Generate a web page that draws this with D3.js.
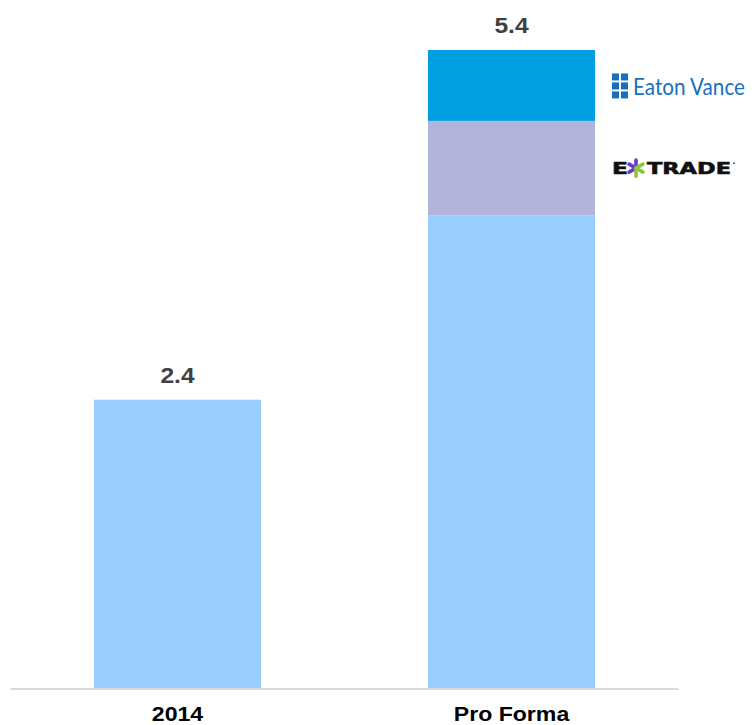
<!DOCTYPE html>
<html>
<head>
<meta charset="utf-8">
<script src="https://cdn.jsdelivr.net/npm/d3@7"></script>
<style>
  body { margin: 0; background: #fff; }
  svg { display: block; font-family: "Liberation Sans", Arial, sans-serif; }
</style>
</head>
<body>
<div id="chart"></div>
<script>
// data
const categories = ['2014', 'Pro Forma'];
const baseValues = [2.44, 4.0];
const etradeValues = [0, 0.8];
const eatonValues = [0, 0.6];
const totalLabels = ['2.4', '5.4'];

const keys = ['base', 'etrade', 'eaton'];
const colors = { base: '#99ccff', etrade: '#b2b4da', eaton: '#009fe1' };

const width = 756;
const height = 725;
const baseline = 688;

const rows = categories.map((c, i) => ({
  cat: c, base: baseValues[i], etrade: etradeValues[i], eaton: eatonValues[i], label: totalLabels[i]
}));

const svg = d3.select('#chart').append('svg').attr('width', width).attr('height', height);

const x = d3.scaleBand()
  .domain(categories)
  .range([10.5, 678.5])
  .paddingInner(0.5)
  .paddingOuter(0.25);

const y = d3.scaleLinear()
  .domain([0, 5.4])
  .range([baseline, 50]);

const stacked = d3.stack().keys(keys)(rows);

// bars
svg.append('g')
  .selectAll('g')
  .data(stacked)
  .join('g')
  .attr('fill', d => colors[d.key])
  .selectAll('rect')
  .data(d => d.filter(s => s[1] > s[0]))
  .join('rect')
  .attr('x', d => x(d.data.cat))
  .attr('width', x.bandwidth())
  .attr('y', d => y(d[1]))
  .attr('height', d => y(d[0]) - y(d[1]));

// baseline
svg.append('line')
  .attr('x1', x.range()[0]).attr('x2', x.range()[1])
  .attr('y1', baseline + 1).attr('y2', baseline + 1)
  .attr('stroke', '#d9d9d9')
  .attr('stroke-width', 2);

// category labels
const xAxis = svg.append('g')
  .attr('transform', `translate(0, ${baseline})`)
  .call(d3.axisBottom(x).tickSize(0).tickPadding(0));
xAxis.select('.domain').remove();
xAxis.selectAll('.tick text')
  .attr('y', 33)
  .attr('dy', 0)
  .attr('fill', '#000')
  .attr('font-family', '"Liberation Sans", Arial, sans-serif')
  .attr('font-size', 21)
  .attr('font-weight', 'bold')
  .attr('transform', 'scale(1.1,1)');

// total labels
svg.append('g')
  .selectAll('text')
  .data(rows)
  .join('text')
  .attr('transform', d => {
    const top = y(d.base + d.etrade + d.eaton);
    return `translate(${x(d.cat) + x.bandwidth() / 2}, ${top - 17}) scale(1.12,1)`;
  })
  .attr('text-anchor', 'middle')
  .attr('fill', '#404040')
  .attr('font-family', '"Liberation Sans", Arial, sans-serif')
  .attr('font-size', 22)
  .attr('font-weight', 'bold')
  .text(d => d.label);

// logos next to the pro forma segments
const pf = rows[1];
const logoX = x(pf.cat) + x.bandwidth() + 22;

const evMid = y(pf.base + pf.etrade + pf.eaton / 2);
const ev = svg.append('g').attr('transform', `translate(${logoX}, ${evMid})`);
const sq = 7, gap = 2;
for (let r = 0; r < 3; r++) {
  for (let c = 0; c < 2; c++) {
    ev.append('rect')
      .attr('x', -5 + c * (sq + gap))
      .attr('y', -12 + r * (sq + gap))
      .attr('width', sq)
      .attr('height', sq)
      .attr('fill', '#1570bf');
  }
}
ev.append('text')
  .attr('x', 16)
  .attr('y', 9)
  .attr('fill', '#1570bf')
  .attr('font-family', 'Lato, "Open Sans", sans-serif')
  .attr('font-size', 22)
  .attr('textLength', 112)
  .attr('lengthAdjust', 'spacingAndGlyphs')
  .attr('transform', 'translate(0,0) scale(1,1.08)')
  .text('Eaton Vance');

const etMid = y(pf.base + pf.etrade / 2);
const et = svg.append('g').attr('transform', `translate(${logoX}, ${etMid})`);
et.append('text')
  .attr('x', -5)
  .attr('y', 6)
  .attr('fill', '#111')
  .attr('font-family', '"DejaVu Sans", sans-serif')
  .attr('font-weight', 'bold')
  .attr('font-size', 16)
  .attr('stroke', '#111')
  .attr('stroke-width', 0.6)
  .attr('textLength', 16)
  .attr('lengthAdjust', 'spacingAndGlyphs')
  .text('E');
// star mark
const starX = 19;
[[-150, '#6a3bc8'], [150, '#6a3bc8'], [-90, '#6a3bc8'], [-30, '#8cc63f'], [30, '#8cc63f'], [90, '#8cc63f']]
  .forEach(([a, col]) => {
    const rad = a * Math.PI / 180;
    et.append('line')
      .attr('x1', starX).attr('y1', 0)
      .attr('x2', starX + Math.cos(rad) * 8).attr('y2', Math.sin(rad) * 8)
      .attr('stroke', col)
      .attr('stroke-width', 3.6)
      .attr('stroke-linecap', 'round');
  });
et.append('text')
  .attr('x', 30)
  .attr('y', 6)
  .attr('fill', '#111')
  .attr('font-family', '"DejaVu Sans", sans-serif')
  .attr('font-weight', 'bold')
  .attr('font-size', 16)
  .attr('stroke', '#111')
  .attr('stroke-width', 0.6)
  .attr('textLength', 84)
  .attr('lengthAdjust', 'spacingAndGlyphs')
  .text('TRADE');
et.append('circle')
  .attr('cx', 117).attr('cy', -5).attr('r', 1)
  .attr('fill', '#555');
</script>
</body>
</html>
